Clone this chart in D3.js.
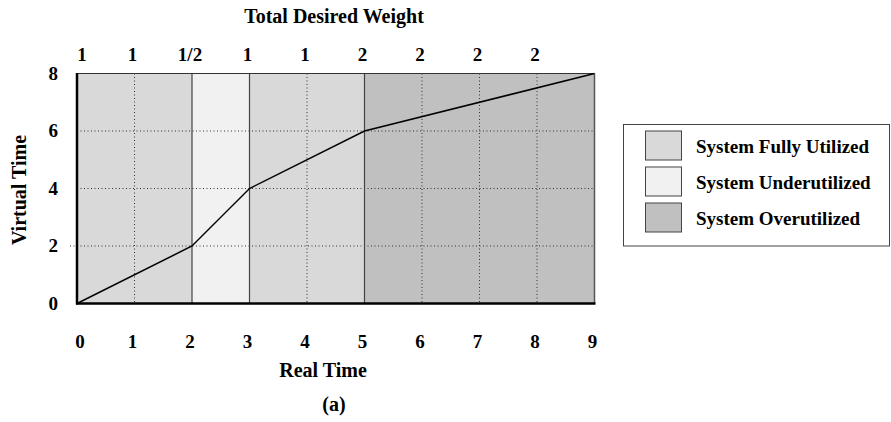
<!DOCTYPE html>
<html><head><meta charset="utf-8">
<script src="https://cdn.jsdelivr.net/npm/d3@7"></script>
<style>body{margin:0;background:#fff}svg text{font-family:"Liberation Serif","Times New Roman",serif;font-weight:bold;font-size:19px;fill:#000}</style>
</head><body><svg id="c" width="891" height="422"></svg>
<script>
const lineX = [0, 2, 3, 5, 9];
const lineY = [0, 2, 4, 6, 8];
const regions = [
  {from:0, to:2, kind:"full"},
  {from:2, to:3, kind:"under"},
  {from:3, to:5, kind:"full"},
  {from:5, to:9, kind:"over"}
];
const xTicks = [0,1,2,3,4,5,6,7,8,9];
const yTicks = [0,2,4,6,8];
const weightLabels = ["1","1","1/2","1","1","2","2","2","2"];
const legendItems = [
  {kind:"full", label:"System Fully Utilized"},
  {kind:"under", label:"System Underutilized"},
  {kind:"over", label:"System Overutilized"}
];
const fills = {full:"#d9d9d9", under:"#f1f1f1", over:"#c0c0c0"};

const svg = d3.select("#c");
const x = d3.scaleLinear().domain([0,9]).range([77,594.5]);
const y = d3.scaleLinear().domain([0,8]).range([303.5,73.5]);

svg.selectAll("rect.reg").data(regions).join("rect")
  .attr("x", d=>x(d.from)).attr("y", y(8))
  .attr("width", d=>x(d.to)-x(d.from)).attr("height", y(0)-y(8))
  .attr("fill", d=>fills[d.kind]);

const gridX = xTicks.filter(v => v>0 && v<9 && !regions.some(r=>r.from===v));
svg.selectAll("line.gx").data(gridX).join("line")
  .attr("x1", d=>x(d)).attr("x2", d=>x(d)).attr("y1", y(8)).attr("y2", y(0))
  .attr("stroke","#333").attr("stroke-width",1).attr("stroke-dasharray","1,2.5");
svg.selectAll("line.gy").data(yTicks.filter(v=>v>0 && v<8)).join("line")
  .attr("x1", d=> d===2 ? x(0)-7 : x(0)).attr("x2", x(9)).attr("y1", d=>y(d)).attr("y2", d=>y(d))
  .attr("stroke","#333").attr("stroke-width",1).attr("stroke-dasharray","1,2.5");

svg.selectAll("line.rb").data(regions.slice(1)).join("line")
  .attr("x1", d=>x(d.from)).attr("x2", d=>x(d.from)).attr("y1", y(8)).attr("y2", y(0))
  .attr("stroke","#444").attr("stroke-width",1.2);

svg.append("line").attr("x1",x(0)).attr("x2",x(9)).attr("y1",y(8)).attr("y2",y(8)).attr("stroke","#333").attr("stroke-width",1.2);
svg.append("line").attr("x1",x(9)).attr("x2",x(9)).attr("y1",y(8)).attr("y2",y(0)).attr("stroke","#555").attr("stroke-width",1.5);
svg.append("line").attr("x1",x(0)).attr("x2",x(0)).attr("y1",y(8)-0.5).attr("y2",y(0)+1).attr("stroke","#000").attr("stroke-width",2.5);
svg.append("line").attr("x1",x(0)-1).attr("x2",x(9)+1).attr("y1",y(0)).attr("y2",y(0)).attr("stroke","#000").attr("stroke-width",2.5);

svg.append("path").datum(lineX.map((v,i)=>[v,lineY[i]]))
  .attr("d", d3.line().x(d=>x(d[0])).y(d=>y(d[1])))
  .attr("fill","none").attr("stroke","#000").attr("stroke-width",1.5);

svg.selectAll("text.xt").data(xTicks).join("text")
  .attr("x", d=>x(d)+(d===0?3:-2)).attr("y", 348).attr("text-anchor","middle").text(d=>d);
svg.selectAll("text.yt").data(yTicks).join("text")
  .attr("x", 58).attr("y", d=>y(d)+6).attr("text-anchor","end").text(d=>d);
svg.selectAll("text.wt").data(weightLabels).join("text")
  .attr("x", (d,i)=>x(i)+(i===0?5:-2)).attr("y", 61).attr("text-anchor","middle").text(d=>d);

svg.append("text").attr("x",334).attr("y",23).attr("text-anchor","middle").style("font-size","20px").text("Total Desired Weight");
svg.append("text").attr("x",323).attr("y",377).attr("text-anchor","middle").style("font-size","20px").text("Real Time");
svg.append("text").attr("x",334).attr("y",411).attr("text-anchor","middle").style("font-size","20px").text("(a)");
svg.append("text").attr("transform","translate(26,190) rotate(-90)").attr("text-anchor","middle").style("font-size","20px").text("Virtual Time");

const lg = svg.append("g");
lg.append("rect").attr("x",623.5).attr("y",124.5).attr("width",266).attr("height",121.5)
  .attr("fill","#fff").attr("stroke","#444").attr("stroke-width",1);
const ly = d3.scaleBand().domain(legendItems.map(d=>d.kind)).range([131,232]).paddingInner(0.194);
lg.selectAll("rect.sw").data(legendItems).join("rect")
  .attr("x",645.5).attr("y",d=>ly(d.kind)).attr("width",36).attr("height",ly.bandwidth())
  .attr("fill",d=>fills[d.kind]).attr("stroke","#444").attr("stroke-width",1);
lg.selectAll("text.lt").data(legendItems).join("text")
  .attr("x",696).attr("y",d=>ly(d.kind)+22).text(d=>d.label);
</script></body></html>
